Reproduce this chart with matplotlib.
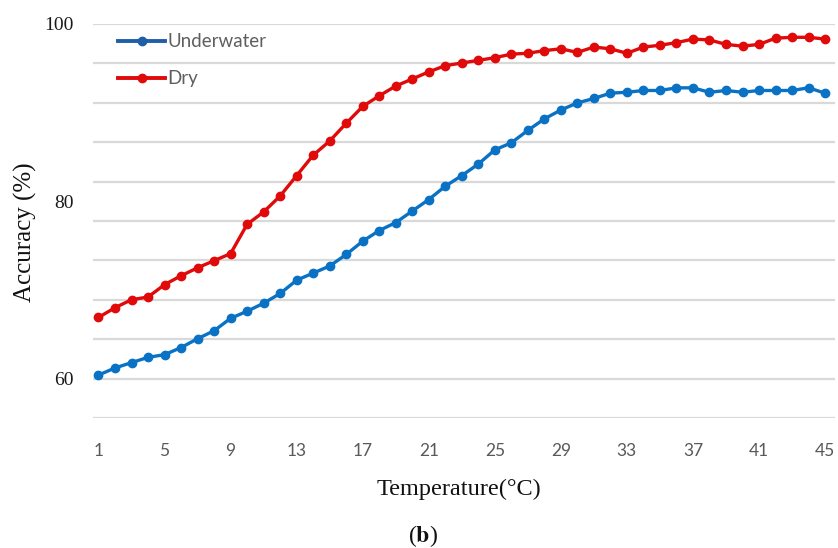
import numpy as np
import matplotlib
matplotlib.use("Agg")
import matplotlib.pyplot as plt
from matplotlib.lines import Line2D

# ---- data ----
temperature = list(range(1, 46))
underwater = [60.4, 61.2, 61.8, 62.4, 62.7, 63.5, 64.5, 65.4, 66.8, 67.6,
              68.5, 69.6, 71.1, 71.9, 72.7, 74.0, 75.5, 76.7, 77.6, 78.9,
              80.2, 81.7, 82.9, 84.2, 85.8, 86.6, 88.0, 89.3, 90.3, 91.1,
              91.6, 92.2, 92.3, 92.5, 92.5, 92.8, 92.8, 92.3, 92.5, 92.3,
              92.5, 92.5, 92.5, 92.8, 92.2]
dry = [66.9, 68.0, 68.9, 69.2, 70.6, 71.6, 72.5, 73.3, 74.1, 77.4,
       78.8, 80.6, 82.9, 85.2, 86.8, 88.8, 90.7, 91.9, 93.0, 93.8,
       94.6, 95.3, 95.6, 95.9, 96.2, 96.6, 96.7, 97.0, 97.2, 96.8,
       97.4, 97.2, 96.7, 97.4, 97.6, 97.9, 98.3, 98.2, 97.7, 97.5,
       97.7, 98.4, 98.5, 98.5, 98.3]
xtick_labels = [1, 5, 9, 13, 17, 21, 25, 29, 33, 37, 41, 45]
ytick_labels = [60, 80, 100]

BLUE = "#0A72C4"
RED = "#E00A0A"

plt.rcParams["mathtext.fontset"] = "stix"

fig = plt.figure(figsize=(8.38, 5.48), dpi=100)
W, H = 838, 548
ax_l, ax_r, ax_t, ax_b = 93, 835, 24, 418
ax = fig.add_axes([ax_l / W, 1 - ax_b / H, (ax_r - ax_l) / W, (ax_b - ax_t) / H])

ax.plot(temperature, underwater, color=BLUE, lw=2.4, marker="o", ms=6,
        solid_capstyle="round", zorder=3)
ax.plot(temperature, dry, color=RED, lw=2.4, marker="o", ms=6,
        solid_capstyle="round", zorder=3)

ymin = 60 - 40 / 9
ax.set_ylim(ymin, 100)
ax.set_xlim(0.667, 45.6)

ax.yaxis.remove_overlapping_locs = False
# gridlines (minor ticks, no labels)
ax.set_yticks(np.linspace(ymin, 100, 11), minor=True)
ax.grid(axis="y", which="minor", color="#D9D9D9", lw=1.6)
ax.grid(axis="y", which="major", visible=False)
ax.set_axisbelow(True)
# value labels (major ticks)
ax.set_yticks(ytick_labels)
ax.set_yticklabels([str(v) for v in ytick_labels],
                   fontfamily="Liberation Serif", fontsize=14, color="#1a1a1a")
ax.tick_params(axis="y", which="both", length=0, pad=14)

ax.set_xticks(xtick_labels)
ax.set_xticklabels([str(v) for v in xtick_labels], fontfamily="Lato",
                   fontsize=12.5, color="#595959")
ax.tick_params(axis="x", length=0, pad=18)

for s in ax.spines.values():
    s.set_visible(False)

handles = [Line2D([], [], color="#1F5FA8", lw=2.8, marker="o", ms=6),
           Line2D([], [], color=RED, lw=2.8, marker="o", ms=6)]
leg = ax.legend(handles, ["Underwater", "Dry"], loc="upper left",
                bbox_to_anchor=(0.024, 0.995), frameon=False,
                prop={"family": "Lato", "size": 13.5}, handlelength=2.5,
                handletextpad=0.1, labelspacing=1.05, borderaxespad=0)
for t in leg.get_texts():
    t.set_color("#5f5f5f")

fig.text(459 / W, 1 - 489 / H, "Temperature(°C)", ha="center", va="center",
         fontfamily="Liberation Serif", fontsize=17.5, color="#111111")
fig.text(25 / W, 1 - 232 / H, "Accuracy (%)", ha="center", va="center",
         rotation=90, fontfamily="Liberation Serif", fontsize=18, color="#111111")
fig.text(423 / W, 1 - 536 / H, r"($\mathbf{b}$)", ha="center", va="center",
         fontfamily="Liberation Serif", fontsize=17, color="#111111")

fig.savefig("out.png", dpi=100)
